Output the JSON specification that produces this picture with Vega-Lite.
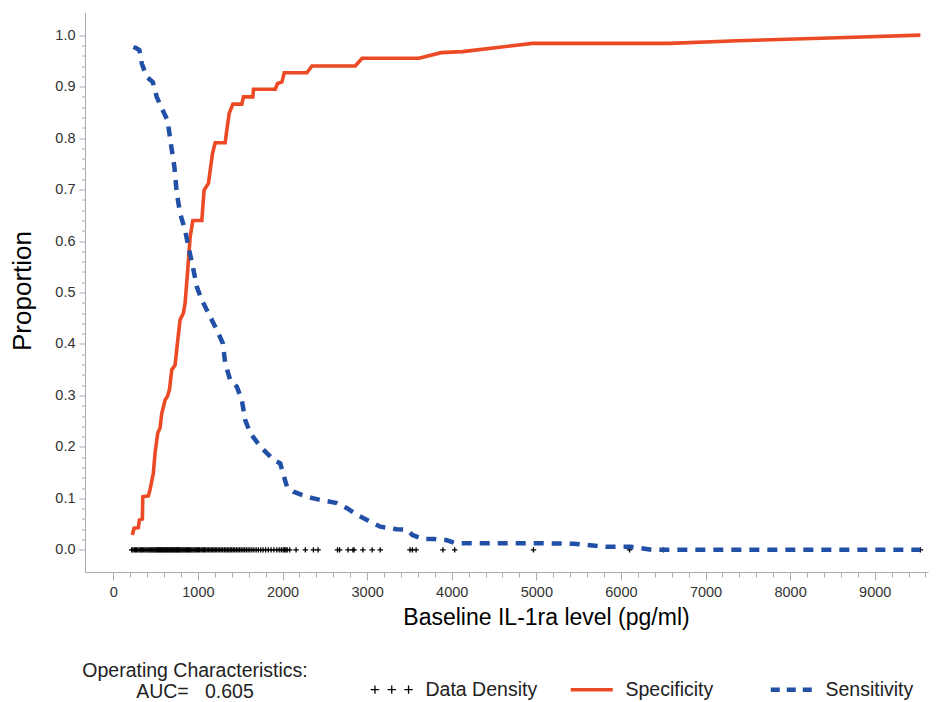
{
  "$schema": "https://vega.github.io/schema/vega-lite/v6.json",
  "width": 843,
  "height": 559.5,
  "autosize": "none",
  "padding": {"left": 85, "top": 12.5, "right": 10, "bottom": 130},
  "background": "white",
  "config": {
    "view": {"stroke": null},
    "font": "Liberation Sans"
  },
  "title": {
    "text": ["Operating Characteristics:", "AUC=\u00a0\u00a0\u00a00.605"],
    "orient": "bottom",
    "anchor": "start",
    "frame": "group",
    "align": "center",
    "dx": 110,
    "dy": -42,
    "font": "Liberation Sans",
    "fontSize": 19.5,
    "fontWeight": "normal",
    "color": "#222222",
    "lineHeight": 21
  },
  "datasets": {
    "spec": [
      {"x": 225, "y": 0.029, "series": "Specificity"},
      {"x": 245, "y": 0.042, "series": "Specificity"},
      {"x": 296, "y": 0.043, "series": "Specificity"},
      {"x": 308, "y": 0.058, "series": "Specificity"},
      {"x": 343, "y": 0.06, "series": "Specificity"},
      {"x": 348, "y": 0.103, "series": "Specificity"},
      {"x": 414, "y": 0.105, "series": "Specificity"},
      {"x": 434, "y": 0.117, "series": "Specificity"},
      {"x": 473, "y": 0.149, "series": "Specificity"},
      {"x": 493, "y": 0.188, "series": "Specificity"},
      {"x": 525, "y": 0.227, "series": "Specificity"},
      {"x": 552, "y": 0.237, "series": "Specificity"},
      {"x": 572, "y": 0.265, "series": "Specificity"},
      {"x": 612, "y": 0.291, "series": "Specificity"},
      {"x": 639, "y": 0.298, "series": "Specificity"},
      {"x": 663, "y": 0.311, "series": "Specificity"},
      {"x": 691, "y": 0.35, "series": "Specificity"},
      {"x": 730, "y": 0.359, "series": "Specificity"},
      {"x": 757, "y": 0.401, "series": "Specificity"},
      {"x": 789, "y": 0.447, "series": "Specificity"},
      {"x": 828, "y": 0.46, "series": "Specificity"},
      {"x": 848, "y": 0.479, "series": "Specificity"},
      {"x": 876, "y": 0.537, "series": "Specificity"},
      {"x": 908, "y": 0.608, "series": "Specificity"},
      {"x": 940, "y": 0.64, "series": "Specificity"},
      {"x": 1046, "y": 0.64, "series": "Specificity"},
      {"x": 1073, "y": 0.699, "series": "Specificity"},
      {"x": 1124, "y": 0.712, "series": "Specificity"},
      {"x": 1172, "y": 0.77, "series": "Specificity"},
      {"x": 1204, "y": 0.791, "series": "Specificity"},
      {"x": 1322, "y": 0.791, "series": "Specificity"},
      {"x": 1342, "y": 0.816, "series": "Specificity"},
      {"x": 1369, "y": 0.848, "series": "Specificity"},
      {"x": 1413, "y": 0.866, "series": "Specificity"},
      {"x": 1519, "y": 0.866, "series": "Specificity"},
      {"x": 1538, "y": 0.88, "series": "Specificity"},
      {"x": 1649, "y": 0.88, "series": "Specificity"},
      {"x": 1657, "y": 0.895, "series": "Specificity"},
      {"x": 1914, "y": 0.895, "series": "Specificity"},
      {"x": 1941, "y": 0.906, "series": "Specificity"},
      {"x": 1993, "y": 0.909, "series": "Specificity"},
      {"x": 2020, "y": 0.927, "series": "Specificity"},
      {"x": 2288, "y": 0.927, "series": "Specificity"},
      {"x": 2348, "y": 0.94, "series": "Specificity"},
      {"x": 2860, "y": 0.94, "series": "Specificity"},
      {"x": 2940, "y": 0.955, "series": "Specificity"},
      {"x": 3613, "y": 0.955, "series": "Specificity"},
      {"x": 3875, "y": 0.966, "series": "Specificity"},
      {"x": 4127, "y": 0.968, "series": "Specificity"},
      {"x": 4953, "y": 0.984, "series": "Specificity"},
      {"x": 6577, "y": 0.984, "series": "Specificity"},
      {"x": 7380, "y": 0.989, "series": "Specificity"},
      {"x": 8565, "y": 0.995, "series": "Specificity"},
      {"x": 9540, "y": 1.0, "series": "Specificity"}
    ],
    "sens": [
      {"x": 237, "y": 0.977, "series": "Sensitivity"},
      {"x": 270, "y": 0.975, "series": "Sensitivity"},
      {"x": 308, "y": 0.971, "series": "Sensitivity"},
      {"x": 336, "y": 0.945, "series": "Sensitivity"},
      {"x": 395, "y": 0.919, "series": "Sensitivity"},
      {"x": 466, "y": 0.909, "series": "Sensitivity"},
      {"x": 513, "y": 0.88, "series": "Sensitivity"},
      {"x": 564, "y": 0.861, "series": "Sensitivity"},
      {"x": 639, "y": 0.835, "series": "Sensitivity"},
      {"x": 663, "y": 0.809, "series": "Sensitivity"},
      {"x": 691, "y": 0.777, "series": "Sensitivity"},
      {"x": 722, "y": 0.744, "series": "Sensitivity"},
      {"x": 750, "y": 0.693, "series": "Sensitivity"},
      {"x": 789, "y": 0.654, "series": "Sensitivity"},
      {"x": 848, "y": 0.621, "series": "Sensitivity"},
      {"x": 888, "y": 0.589, "series": "Sensitivity"},
      {"x": 940, "y": 0.55, "series": "Sensitivity"},
      {"x": 987, "y": 0.511, "series": "Sensitivity"},
      {"x": 1046, "y": 0.485, "series": "Sensitivity"},
      {"x": 1065, "y": 0.479, "series": "Sensitivity"},
      {"x": 1124, "y": 0.46, "series": "Sensitivity"},
      {"x": 1144, "y": 0.453, "series": "Sensitivity"},
      {"x": 1224, "y": 0.427, "series": "Sensitivity"},
      {"x": 1295, "y": 0.401, "series": "Sensitivity"},
      {"x": 1322, "y": 0.363, "series": "Sensitivity"},
      {"x": 1381, "y": 0.33, "series": "Sensitivity"},
      {"x": 1460, "y": 0.317, "series": "Sensitivity"},
      {"x": 1519, "y": 0.291, "series": "Sensitivity"},
      {"x": 1559, "y": 0.252, "series": "Sensitivity"},
      {"x": 1618, "y": 0.227, "series": "Sensitivity"},
      {"x": 1736, "y": 0.201, "series": "Sensitivity"},
      {"x": 1893, "y": 0.175, "series": "Sensitivity"},
      {"x": 1973, "y": 0.168, "series": "Sensitivity"},
      {"x": 2005, "y": 0.149, "series": "Sensitivity"},
      {"x": 2052, "y": 0.123, "series": "Sensitivity"},
      {"x": 2130, "y": 0.113, "series": "Sensitivity"},
      {"x": 2289, "y": 0.103, "series": "Sensitivity"},
      {"x": 2367, "y": 0.1, "series": "Sensitivity"},
      {"x": 2446, "y": 0.097, "series": "Sensitivity"},
      {"x": 2643, "y": 0.091, "series": "Sensitivity"},
      {"x": 2762, "y": 0.081, "series": "Sensitivity"},
      {"x": 2880, "y": 0.068, "series": "Sensitivity"},
      {"x": 2999, "y": 0.058, "series": "Sensitivity"},
      {"x": 3156, "y": 0.045, "series": "Sensitivity"},
      {"x": 3354, "y": 0.04, "series": "Sensitivity"},
      {"x": 3473, "y": 0.039, "series": "Sensitivity"},
      {"x": 3535, "y": 0.029, "series": "Sensitivity"},
      {"x": 3664, "y": 0.021, "series": "Sensitivity"},
      {"x": 3790, "y": 0.021, "series": "Sensitivity"},
      {"x": 3937, "y": 0.019, "series": "Sensitivity"},
      {"x": 4044, "y": 0.013, "series": "Sensitivity"},
      {"x": 5014, "y": 0.013, "series": "Sensitivity"},
      {"x": 5439, "y": 0.012, "series": "Sensitivity"},
      {"x": 5819, "y": 0.006, "series": "Sensitivity"},
      {"x": 6115, "y": 0.006, "series": "Sensitivity"},
      {"x": 6368, "y": 0.0, "series": "Sensitivity"},
      {"x": 9540, "y": 0.0, "series": "Sensitivity"}
    ],
    "density": [
      {"x": 217, "y": 0, "series": "Data Density"}, {"x": 232, "y": 0, "series": "Data Density"}, {"x": 248, "y": 0, "series": "Data Density"}, {"x": 262, "y": 0, "series": "Data Density"},
      {"x": 275, "y": 0, "series": "Data Density"}, {"x": 290, "y": 0, "series": "Data Density"}, {"x": 305, "y": 0, "series": "Data Density"}, {"x": 318, "y": 0, "series": "Data Density"},
      {"x": 333, "y": 0, "series": "Data Density"}, {"x": 341, "y": 0, "series": "Data Density"}, {"x": 356, "y": 0, "series": "Data Density"}, {"x": 372, "y": 0, "series": "Data Density"},
      {"x": 385, "y": 0, "series": "Data Density"}, {"x": 398, "y": 0, "series": "Data Density"}, {"x": 410, "y": 0, "series": "Data Density"}, {"x": 424, "y": 0, "series": "Data Density"},
      {"x": 436, "y": 0, "series": "Data Density"}, {"x": 447, "y": 0, "series": "Data Density"}, {"x": 459, "y": 0, "series": "Data Density"}, {"x": 470, "y": 0, "series": "Data Density"},
      {"x": 482, "y": 0, "series": "Data Density"}, {"x": 493, "y": 0, "series": "Data Density"}, {"x": 505, "y": 0, "series": "Data Density"}, {"x": 514, "y": 0, "series": "Data Density"},
      {"x": 523, "y": 0, "series": "Data Density"}, {"x": 535, "y": 0, "series": "Data Density"}, {"x": 546, "y": 0, "series": "Data Density"}, {"x": 556, "y": 0, "series": "Data Density"},
      {"x": 567, "y": 0, "series": "Data Density"}, {"x": 579, "y": 0, "series": "Data Density"}, {"x": 588, "y": 0, "series": "Data Density"}, {"x": 597, "y": 0, "series": "Data Density"},
      {"x": 608, "y": 0, "series": "Data Density"}, {"x": 617, "y": 0, "series": "Data Density"}, {"x": 628, "y": 0, "series": "Data Density"}, {"x": 639, "y": 0, "series": "Data Density"},
      {"x": 648, "y": 0, "series": "Data Density"}, {"x": 657, "y": 0, "series": "Data Density"}, {"x": 668, "y": 0, "series": "Data Density"}, {"x": 679, "y": 0, "series": "Data Density"},
      {"x": 688, "y": 0, "series": "Data Density"}, {"x": 697, "y": 0, "series": "Data Density"}, {"x": 708, "y": 0, "series": "Data Density"}, {"x": 719, "y": 0, "series": "Data Density"},
      {"x": 728, "y": 0, "series": "Data Density"}, {"x": 739, "y": 0, "series": "Data Density"}, {"x": 748, "y": 0, "series": "Data Density"}, {"x": 757, "y": 0, "series": "Data Density"},
      {"x": 768, "y": 0, "series": "Data Density"}, {"x": 779, "y": 0, "series": "Data Density"}, {"x": 789, "y": 0, "series": "Data Density"}, {"x": 798, "y": 0, "series": "Data Density"},
      {"x": 811, "y": 0, "series": "Data Density"}, {"x": 822, "y": 0, "series": "Data Density"}, {"x": 833, "y": 0, "series": "Data Density"}, {"x": 845, "y": 0, "series": "Data Density"},
      {"x": 856, "y": 0, "series": "Data Density"}, {"x": 867, "y": 0, "series": "Data Density"}, {"x": 879, "y": 0, "series": "Data Density"}, {"x": 890, "y": 0, "series": "Data Density"},
      {"x": 901, "y": 0, "series": "Data Density"}, {"x": 915, "y": 0, "series": "Data Density"}, {"x": 928, "y": 0, "series": "Data Density"}, {"x": 941, "y": 0, "series": "Data Density"},
      {"x": 955, "y": 0, "series": "Data Density"}, {"x": 968, "y": 0, "series": "Data Density"}, {"x": 980, "y": 0, "series": "Data Density"}, {"x": 994, "y": 0, "series": "Data Density"},
      {"x": 1007, "y": 0, "series": "Data Density"}, {"x": 1020, "y": 0, "series": "Data Density"}, {"x": 1036, "y": 0, "series": "Data Density"}, {"x": 1050, "y": 0, "series": "Data Density"},
      {"x": 1064, "y": 0, "series": "Data Density"}, {"x": 1079, "y": 0, "series": "Data Density"}, {"x": 1093, "y": 0, "series": "Data Density"}, {"x": 1110, "y": 0, "series": "Data Density"},
      {"x": 1126, "y": 0, "series": "Data Density"}, {"x": 1142, "y": 0, "series": "Data Density"}, {"x": 1158, "y": 0, "series": "Data Density"}, {"x": 1175, "y": 0, "series": "Data Density"},
      {"x": 1190, "y": 0, "series": "Data Density"}, {"x": 1205, "y": 0, "series": "Data Density"}, {"x": 1222, "y": 0, "series": "Data Density"}, {"x": 1240, "y": 0, "series": "Data Density"},
      {"x": 1258, "y": 0, "series": "Data Density"}, {"x": 1275, "y": 0, "series": "Data Density"}, {"x": 1293, "y": 0, "series": "Data Density"}, {"x": 1312, "y": 0, "series": "Data Density"},
      {"x": 1330, "y": 0, "series": "Data Density"}, {"x": 1348, "y": 0, "series": "Data Density"}, {"x": 1366, "y": 0, "series": "Data Density"}, {"x": 1383, "y": 0, "series": "Data Density"},
      {"x": 1400, "y": 0, "series": "Data Density"}, {"x": 1418, "y": 0, "series": "Data Density"}, {"x": 1436, "y": 0, "series": "Data Density"}, {"x": 1455, "y": 0, "series": "Data Density"},
      {"x": 1474, "y": 0, "series": "Data Density"}, {"x": 1493, "y": 0, "series": "Data Density"}, {"x": 1512, "y": 0, "series": "Data Density"}, {"x": 1532, "y": 0, "series": "Data Density"},
      {"x": 1551, "y": 0, "series": "Data Density"}, {"x": 1572, "y": 0, "series": "Data Density"}, {"x": 1593, "y": 0, "series": "Data Density"}, {"x": 1614, "y": 0, "series": "Data Density"},
      {"x": 1638, "y": 0, "series": "Data Density"}, {"x": 1662, "y": 0, "series": "Data Density"}, {"x": 1688, "y": 0, "series": "Data Density"}, {"x": 1714, "y": 0, "series": "Data Density"},
      {"x": 1742, "y": 0, "series": "Data Density"}, {"x": 1770, "y": 0, "series": "Data Density"}, {"x": 1800, "y": 0, "series": "Data Density"}, {"x": 1832, "y": 0, "series": "Data Density"},
      {"x": 1865, "y": 0, "series": "Data Density"}, {"x": 1898, "y": 0, "series": "Data Density"}, {"x": 1932, "y": 0, "series": "Data Density"}, {"x": 1960, "y": 0, "series": "Data Density"},
      {"x": 1985, "y": 0, "series": "Data Density"}, {"x": 2008, "y": 0, "series": "Data Density"}, {"x": 2025, "y": 0, "series": "Data Density"}, {"x": 2040, "y": 0, "series": "Data Density"},
      {"x": 2055, "y": 0, "series": "Data Density"}, {"x": 2085, "y": 0, "series": "Data Density"}, {"x": 2160, "y": 0, "series": "Data Density"}, {"x": 2270, "y": 0, "series": "Data Density"},
      {"x": 2365, "y": 0, "series": "Data Density"}, {"x": 2420, "y": 0, "series": "Data Density"}, {"x": 2650, "y": 0, "series": "Data Density"}, {"x": 2675, "y": 0, "series": "Data Density"},
      {"x": 2775, "y": 0, "series": "Data Density"}, {"x": 2833, "y": 0, "series": "Data Density"}, {"x": 2845, "y": 0, "series": "Data Density"}, {"x": 2950, "y": 0, "series": "Data Density"},
      {"x": 3060, "y": 0, "series": "Data Density"}, {"x": 3155, "y": 0, "series": "Data Density"}, {"x": 3507, "y": 0, "series": "Data Density"}, {"x": 3535, "y": 0, "series": "Data Density"},
      {"x": 3579, "y": 0, "series": "Data Density"}, {"x": 3896, "y": 0, "series": "Data Density"}, {"x": 4035, "y": 0, "series": "Data Density"}, {"x": 4966, "y": 0, "series": "Data Density"},
      {"x": 6102, "y": 0, "series": "Data Density"}, {"x": 6504, "y": 0, "series": "Data Density"}, {"x": 9540, "y": 0, "series": "Data Density"}
    ]
  },
  "encoding": {
    "x": {
      "field": "x",
      "type": "quantitative",
      "scale": {"domain": [-335, 9630], "nice": false, "zero": false},
      "axis": {
        "title": "Baseline IL-1ra level (pg/ml)",
        "values": [0,200,400,600,800,1000,1200,1400,1600,1800,2000,2200,2400,2600,2800,3000,3200,3400,3600,3800,4000,4200,4400,4600,4800,5000,5200,5400,5600,5800,6000,6200,6400,6600,6800,7000,7200,7400,7600,7800,8000,8200,8400,8600,8800,9000,9200,9400,9600],
        "labelExpr": "datum.value % 1000 === 0 ? format(datum.value, 'd') : ''",
        "tickSize": {"condition": {"test": "datum.value % 1000 === 0", "value": 8}, "value": 5},
        "grid": false,
        "domainColor": "#A3ACB4",
        "tickColor": "#A3ACB4",
        "labelColor": "#333333",
        "labelFont": "Liberation Sans",
        "labelFontSize": 14.5,
        "labelPadding": 5,
        "labelFlush": false,
        "labelOverlap": false,
        "titleFont": "Liberation Sans",
        "titleFontSize": 23,
        "titleFontWeight": "normal",
        "titleColor": "#000000",
        "titleX": 461,
        "titleY": 34,
        "titleBaseline": "top"
      }
    },
    "y": {
      "field": "y",
      "type": "quantitative",
      "scale": {"domain": [-0.043, 1.044], "nice": false, "zero": false},
      "axis": {
        "title": "Proportion",
        "values": [0,0.02,0.04,0.06,0.08,0.1,0.12,0.14,0.16,0.18,0.2,0.22,0.24,0.26,0.28,0.3,0.32,0.34,0.36,0.38,0.4,0.42,0.44,0.46,0.48,0.5,0.52,0.54,0.56,0.58,0.6,0.62,0.64,0.66,0.68,0.7,0.72,0.74,0.76,0.78,0.8,0.82,0.84,0.86,0.88,0.9,0.92,0.94,0.96,0.98,1.0],
        "labelExpr": "abs(datum.value * 10 - round(datum.value * 10)) < 0.001 ? format(datum.value, '.1f') : ''",
        "tickSize": {"condition": {"test": "abs(datum.value * 10 - round(datum.value * 10)) < 0.001", "value": 6}, "value": 3.5},
        "grid": false,
        "domainColor": "#A3ACB4",
        "tickColor": "#A3ACB4",
        "labelColor": "#333333",
        "labelFont": "Liberation Sans",
        "labelFontSize": 14.5,
        "labelPadding": 4,
        "labelFlush": false,
        "labelOverlap": false,
        "titleFont": "Liberation Sans",
        "titleFontSize": 26,
        "titleFontWeight": "normal",
        "titleColor": "#000000",
        "titleX": -50,
        "titleY": 278,
        "titleAlign": "center"
      }
    },
    "color": {
      "field": "series",
      "type": "nominal",
      "scale": {"domain": ["Data Density", "Specificity", "Sensitivity"], "range": ["#000000", "#EC4A24", "#2150A6"]},
      "legend": {
        "title": null,
        "orient": "none",
        "legendX": 297,
        "legendY": 667,
        "direction": "horizontal",
        "gridAlign": "all",
        "columnPadding": 23,
        "symbolSize": 1764,
        "symbolType": "stroke",
        "labelFont": "Liberation Sans",
        "labelFontSize": 19.5,
        "labelColor": "#222222",
        "labelOffset": 24,
        "labelLimit": 300,
        "encode": {
          "symbols": {
            "update": {
              "shape": {"signal": "datum.value === 'Data Density' ? 'M-1,0H-0.6M-0.8,-0.2V0.2M-0.2,0H0.2M0,-0.2V0.2M0.6,0H1M0.8,-0.2V0.2' : 'stroke'"},
              "strokeDash": {"signal": "datum.value === 'Sensitivity' ? [9, 7] : [1, 0]"},
              "strokeWidth": {"signal": "datum.value === 'Data Density' ? 1.3 : (datum.value === 'Sensitivity' ? 4.5 : 3.5)"},
              "fill": {"value": "transparent"}
            }
          }
        }
      }
    }
  },
  "layer": [
    {
      "mark": {"type": "rule", "color": "#A3ACB4", "strokeWidth": 1},
      "encoding": {"y": {"datum": 1.044}, "x": null, "color": null}
    },
    {
      "data": {"name": "density"},
      "mark": {"type": "point", "shape": "M-1,0H1M0,-1V1", "filled": false, "size": 30, "strokeWidth": 1.3, "opacity": 1}
    },
    {
      "data": {"name": "spec"},
      "mark": {"type": "line", "strokeWidth": 3.6, "interpolate": "linear"}
    },
    {
      "data": {"name": "sens"},
      "mark": {"type": "line", "strokeWidth": 4.5, "strokeDash": [10, 8], "interpolate": "linear"}
    }
  ]
}
